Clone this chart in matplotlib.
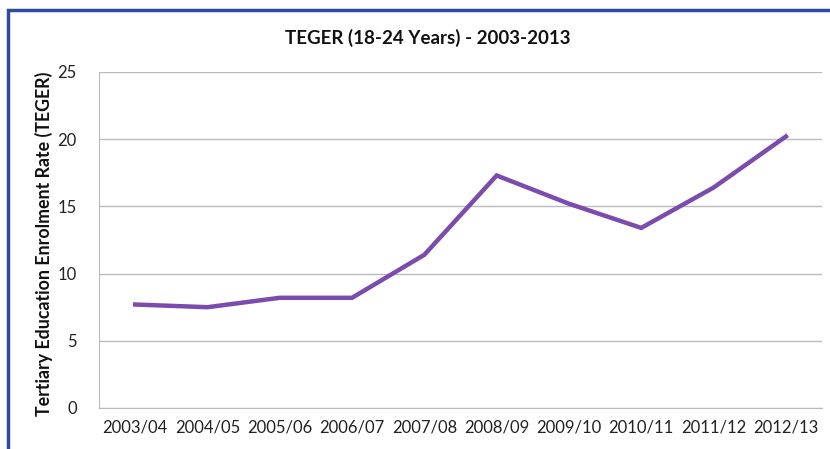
import matplotlib
matplotlib.use("Agg")
import matplotlib.pyplot as plt
from matplotlib.patches import Rectangle

years = ["2003/04", "2004/05", "2005/06", "2006/07", "2007/08",
         "2008/09", "2009/10", "2010/11", "2011/12", "2012/13"]
teger = [7.7, 7.5, 8.2, 8.2, 11.4, 17.3, 15.2, 13.4, 16.4, 20.2]
yticks = [0, 5, 10, 15, 20, 25]

plt.rcParams['font.family'] = ['Lato', 'DejaVu Sans']

fig = plt.figure(figsize=(8.30, 4.49), dpi=100)
fig.patch.set_facecolor('white')
W, H = 830, 449
ax = fig.add_axes([99 / W, 1 - 408 / H, 723 / W, 336 / H])

x = list(range(len(years)))
ax.plot(x, teger, color='#7B4BAE', lw=3.2, solid_joinstyle='miter')
ax.set_xlim(-0.5, len(years) - 0.5)
ax.set_ylim(0, 25)
ax.set_yticks(yticks)
ax.set_xticks(x)
ax.set_xticklabels(years)
ax.grid(axis='y', color='#BBBBBB', lw=1)
ax.set_axisbelow(True)
for s in ['top', 'right']:
    ax.spines[s].set_visible(False)
ax.spines['left'].set_color('#BBBBBB')
ax.spines['bottom'].set_color('#BBBBBB')
ax.tick_params(axis='both', length=0, labelsize=12, colors='#222222', pad=8)
ax.tick_params(axis='y', pad=16)
ax.set_ylabel('Tertiary Education Enrolment Rate (TEGER)', fontsize=12.8,
              fontweight='bold', color='#111111')
ax.yaxis.set_label_coords((53 - 99) / 723, 0.49)
fig.text(428 / W, 1 - 38 / H, 'TEGER (18-24 Years) - 2003-2013', ha='center',
         va='center', fontsize=13.5, fontweight='bold', color='#111111')

fig.patches.append(Rectangle((8 / W, -0.1), 1.2, (1 - 10 / H) + 0.1,
                             transform=fig.transFigure, fill=False,
                             edgecolor='#2F4C9C', lw=2.5))

fig.savefig('out.png', dpi=100)
